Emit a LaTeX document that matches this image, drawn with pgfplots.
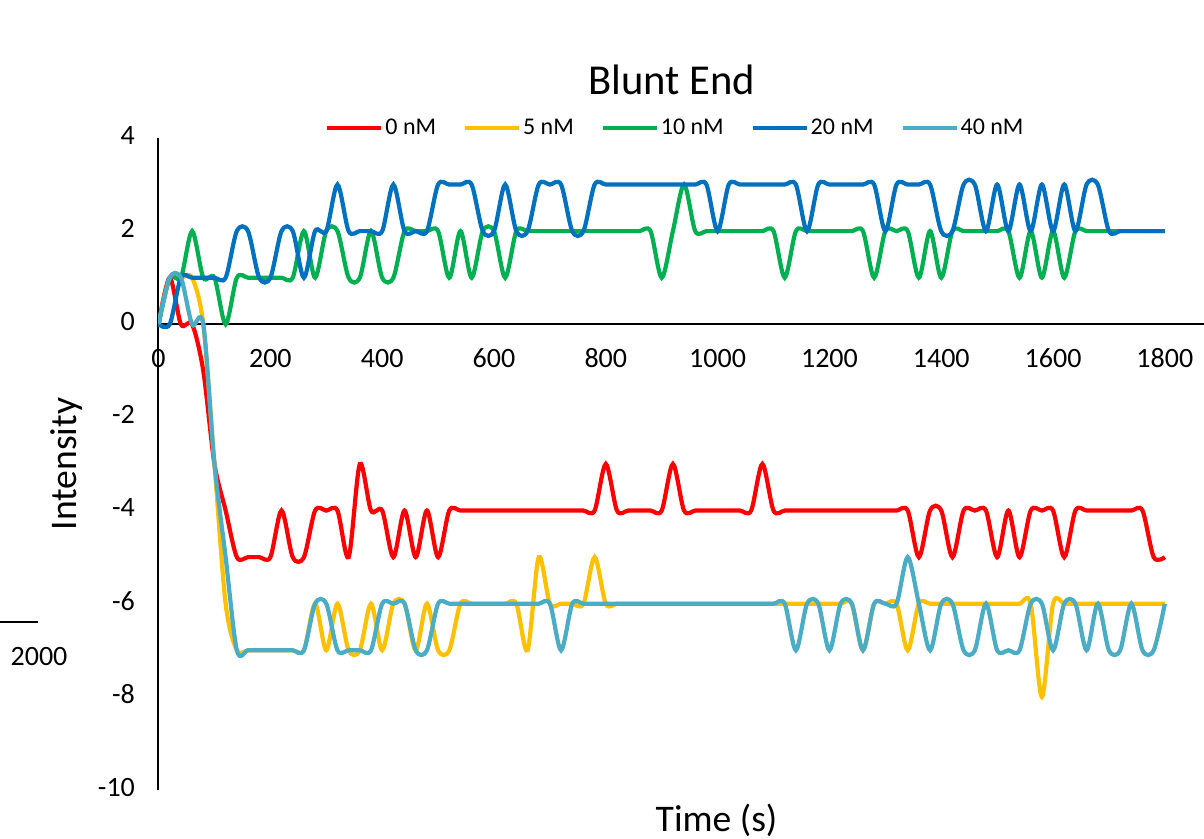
\documentclass[border=0pt]{standalone}
\usepackage{pgfplots}
\usepackage{pgfplotstable}
\pgfplotsset{compat=1.18}
\usepackage{fontspec}
\setmainfont{Carlito}
\definecolor{cRed}{RGB}{255,0,0}
\definecolor{cYel}{RGB}{255,192,0}
\definecolor{cGrn}{RGB}{0,176,80}
\definecolor{cBlu}{RGB}{0,112,192}
\definecolor{cLbl}{RGB}{75,172,198}
\pgfplotstableread{
t r y g b l
0 0 0 0 0 0
20 1 1 1 0 1
40 0 1 1 1 1
60 0 1 2 1 0
80 -1 0 1 1 0
100 -3 -3 1 1 -3
120 -4 -6 0 1 -5
140 -5 -7 1 2 -7
160 -5 -7 1 2 -7
180 -5 -7 1 1 -7
200 -5 -7 1 1 -7
220 -4 -7 1 2 -7
240 -5 -7 1 2 -7
260 -5 -7 2 1 -7
280 -4 -6 1 2 -6
300 -4 -7 2 2 -6
320 -4 -6 2 3 -7
340 -5 -7 1 2 -7
360 -3 -7 1 2 -7
380 -4 -6 2 2 -7
400 -4 -7 1 2 -6
420 -5 -6 1 3 -6
440 -4 -6 2 2 -6
460 -5 -7 2 2 -7
480 -4 -6 2 2 -7
500 -5 -7 2 3 -6
520 -4 -7 1 3 -6
540 -4 -6 2 3 -6
560 -4 -6 1 3 -6
580 -4 -6 2 2 -6
600 -4 -6 2 2 -6
620 -4 -6 1 3 -6
640 -4 -6 2 2 -6
660 -4 -7 2 2 -6
680 -4 -5 2 3 -6
700 -4 -6 2 3 -6
720 -4 -6 2 3 -7
740 -4 -6 2 2 -6
760 -4 -6 2 2 -6
780 -4 -5 2 3 -6
800 -3 -6 2 3 -6
820 -4 -6 2 3 -6
840 -4 -6 2 3 -6
860 -4 -6 2 3 -6
880 -4 -6 2 3 -6
900 -4 -6 1 3 -6
920 -3 -6 2 3 -6
940 -4 -6 3 3 -6
960 -4 -6 2 3 -6
980 -4 -6 2 3 -6
1000 -4 -6 2 2 -6
1020 -4 -6 2 3 -6
1040 -4 -6 2 3 -6
1060 -4 -6 2 3 -6
1080 -3 -6 2 3 -6
1100 -4 -6 2 3 -6
1120 -4 -6 1 3 -6
1140 -4 -6 2 3 -7
1160 -4 -6 2 2 -6
1180 -4 -6 2 3 -6
1200 -4 -6 2 3 -7
1220 -4 -6 2 3 -6
1240 -4 -6 2 3 -6
1260 -4 -7 2 3 -7
1280 -4 -6 1 3 -6
1300 -4 -6 2 2 -6
1320 -4 -6 2 3 -6
1340 -4 -7 2 3 -5
1360 -5 -6 1 3 -6
1380 -4 -6 2 3 -7
1400 -4 -6 1 2 -6
1420 -5 -6 2 2 -6
1440 -4 -6 2 3 -7
1460 -4 -6 2 3 -7
1480 -4 -6 2 2 -6
1500 -5 -6 2 3 -7
1520 -4 -6 2 2 -7
1540 -5 -6 1 3 -7
1560 -4 -6 2 2 -6
1580 -4 -8 1 3 -6
1600 -4 -6 2 2 -7
1620 -5 -6 1 3 -6
1640 -4 -6 2 2 -6
1660 -4 -6 2 3 -7
1680 -4 -6 2 3 -6
1700 -4 -6 2 2 -7
1720 -4 -6 2 2 -7
1740 -4 -6 2 2 -6
1760 -4 -6 2 2 -7
1780 -5 -6 2 2 -7
1800 -5 -6 2 2 -6
}\datatable
\begin{document}
\begin{tikzpicture}
\begin{axis}[
  at={(79pt,24.5pt)}, anchor=south west,
  scale only axis, width=523pt, height=326pt,
  xmin=-1, xmax=1870, ymin=-10, ymax=4,
  axis x line=middle, axis y line=left,
  axis line style={-, line width=1.2pt, black},
  xtick={0,200,...,1800}, ytick={-10,-8,...,4},
  major tick length=0pt,
  typeset ticklabels with strut,
  tick label style={font=\fontsize{14}{16}\selectfont},
  /pgf/number format/assume math mode=true,
  /pgf/number format/1000 sep={},
  xticklabel style={anchor=north, yshift=-7pt},
  yticklabel style={anchor=east, xshift=-8pt},
  title={Blunt End},
  title style={at={(axis description cs:0.4914,1.071)}, anchor=center, font=\fontsize{21.3}{25}\selectfont},
  xlabel={Time (s)}, ylabel={Intensity},
  xlabel style={at={(axis description cs:0.534,-0.046)}, anchor=center, font=\fontsize{18.8}{22}\selectfont},
  ylabel style={at={(axis description cs:-0.087,0.5)}, anchor=center, font=\fontsize{18.8}{22}\selectfont},
  legend columns=5,
  legend style={at={(axis description cs:0.4947,1.0153)}, anchor=center, draw=none, fill=none,
    font=\fontsize{12}{14}\selectfont,
    nodes={inner xsep=1pt},
    /tikz/every odd column/.append style={column sep=0pt},
    /tikz/every even column/.append style={column sep=12.5pt}},
  legend image code/.code={\draw[#1, line width=2pt] (0pt,0pt) -- (27pt,0pt);},
  every axis plot/.append style={line width=2.1pt, smooth, tension=0.5, no markers},
]
\addplot[cRed] table[x=t, y=r] {\datatable};
\addlegendentry{0 nM}
\addplot[cYel] table[x=t, y=y] {\datatable};
\addlegendentry{5 nM}
\addplot[cGrn] table[x=t, y=g] {\datatable};
\addlegendentry{10 nM}
\addplot[cBlu] table[x=t, y=b] {\datatable};
\addlegendentry{20 nM}
\addplot[cLbl] table[x=t, y=l] {\datatable};
\addlegendentry{40 nM}
\end{axis}
\draw[line width=1pt] (0pt,108.5pt) -- (19pt,108.5pt);
\node[font=\fontsize{14}{16}\selectfont, anchor=center] at (19.5pt,91pt) {2000};
\pgfresetboundingbox
\path[use as bounding box] (0pt,0pt) rectangle (602pt,419.5pt);
\end{tikzpicture}
\end{document}
